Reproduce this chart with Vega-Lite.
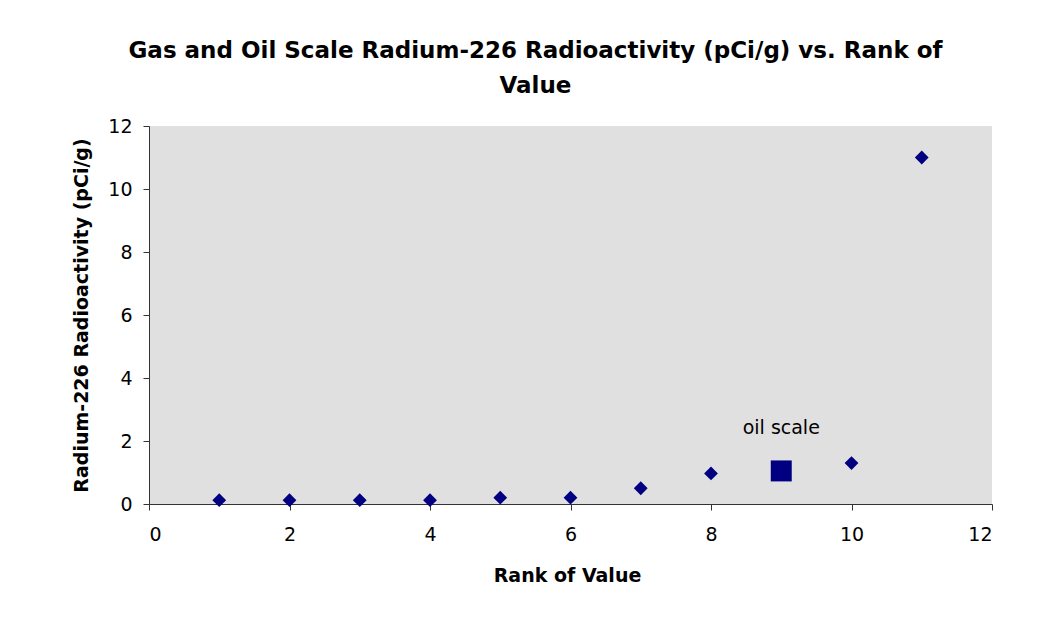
{
  "$schema": "https://vega.github.io/schema/vega-lite/v6.json",
  "autosize": "none",
  "width": 843,
  "height": 378,
  "padding": {"left": 149, "top": 126, "right": 63, "bottom": 126},
  "background": "white",
  "title": {
    "text": ["Gas and Oil Scale Radium-226 Radioactivity (pCi/g) vs. Rank of", "Value"],
    "font": "DejaVu Sans",
    "fontSize": 23,
    "fontWeight": "bold",
    "color": "black",
    "anchor": "middle",
    "dx": -35,
    "offset": 19,
    "lineHeight": 35
  },
  "config": {
    "view": {"fill": "#e0e0e0", "stroke": null},
    "font": "DejaVu Sans"
  },
  "datasets": {
    "gas": [
      {"rank": 1, "value": 0.12},
      {"rank": 2, "value": 0.12},
      {"rank": 3, "value": 0.12},
      {"rank": 4, "value": 0.12},
      {"rank": 5, "value": 0.2},
      {"rank": 6, "value": 0.2},
      {"rank": 7, "value": 0.5},
      {"rank": 8, "value": 0.97},
      {"rank": 10, "value": 1.3},
      {"rank": 11, "value": 11.0}
    ],
    "oil": [
      {"rank": 9, "value": 1.05, "label": "oil scale", "labelY": 2.4}
    ]
  },
  "layer": [
    {
      "data": {"name": "gas"},
      "mark": {"type": "point", "shape": "diamond", "filled": true, "color": "#000080", "opacity": 1, "size": 190},
      "encoding": {
        "x": {
          "field": "rank", "type": "quantitative",
          "scale": {"domain": [0, 12], "nice": false, "zero": true},
          "axis": {
            "title": "Rank of Value",
            "values": [0, 2, 4, 6, 8, 10, 12],
            "format": "d",
            "grid": false,
            "domainColor": "#333333",
            "tickColor": "#333333",
            "tickSize": 6,
            "labelFont": "DejaVu Sans",
            "labelFontSize": 19,
            "labelColor": "black",
            "labelPadding": 15,
            "titleFont": "DejaVu Sans",
            "titleFontSize": 19,
            "titleFontWeight": "bold",
            "titleColor": "black",
            "titlePadding": 22,
            "titleX": 418
          }
        },
        "y": {
          "field": "value", "type": "quantitative",
          "scale": {"domain": [0, 12], "nice": false},
          "axis": {
            "title": "Radium-226 Radioactivity (pCi/g)",
            "values": [0, 2, 4, 6, 8, 10, 12],
            "format": "d",
            "grid": false,
            "domainColor": "#333333",
            "tickColor": "#333333",
            "tickSize": 6,
            "labelFont": "DejaVu Sans",
            "labelFontSize": 19,
            "labelColor": "black",
            "labelPadding": 11,
            "titleFont": "DejaVu Sans",
            "titleFontSize": 19,
            "titleFontWeight": "bold",
            "titleColor": "black",
            "titlePadding": 16
          }
        }
      }
    },
    {
      "data": {"name": "oil"},
      "mark": {"type": "point", "shape": "square", "filled": true, "color": "#000080", "opacity": 1, "size": 440},
      "encoding": {
        "x": {"field": "rank", "type": "quantitative"},
        "y": {"field": "value", "type": "quantitative"}
      }
    },
    {
      "data": {"name": "oil"},
      "mark": {"type": "text", "fontSize": 19, "color": "black", "font": "DejaVu Sans"},
      "encoding": {
        "x": {"field": "rank", "type": "quantitative"},
        "y": {"field": "labelY", "type": "quantitative"},
        "text": {"field": "label"}
      }
    }
  ]
}
